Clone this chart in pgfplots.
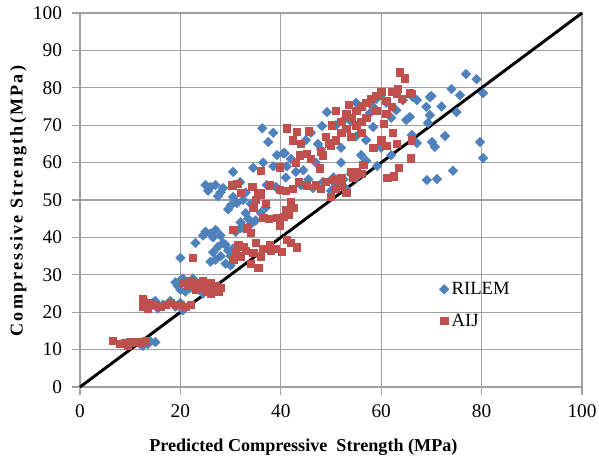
\documentclass[border=0pt]{standalone}
\usepackage{fontspec}
\setmainfont{Liberation Serif}
\usepackage{pgfplots}
\pgfplotsset{compat=1.18}
\definecolor{rilem}{HTML}{4F81BD}
\definecolor{aij}{HTML}{C0504D}
\definecolor{gridc}{HTML}{A0A0A0}

\begin{document}
\begin{tikzpicture}
\begin{axis}[
  scale only axis,
  width=376.5pt, height=280.5pt,
  xmin=0, xmax=100, ymin=0, ymax=100,
  xtick={0,20,...,100}, ytick={0,10,...,100},
  xtick pos=bottom, ytick pos=left,
  tick align=outside, major tick length=6pt,
  tick style={gridc, line width=1pt},
  grid=major, grid style={gridc, line width=1pt},
  axis line style={gridc, line width=1pt},
  /pgf/number format/assume math mode=true,
  ticklabel style={font=\fontsize{14.5}{14.5}\selectfont},
  yticklabel style={xshift=-4pt},
  xticklabel style={yshift=-4pt},
  xlabel={\textbf{Predicted Compressive\ \ Strength (MPa)}},
  ylabel={\addfontfeature{LetterSpace=12}\textbf{Compressive Strength(MPa)}},
  label style={font=\fontsize{13.6}{13.6}\selectfont},
  xlabel style={at={(rel axis cs:0.445,-0.16)}, anchor=center},
  ylabel style={at={(rel axis cs:-0.123,0.5)}, anchor=center},
  legend style={at={(axis cs:71.5,28.8)}, anchor=north west, draw=none, fill=none,
    font=\fontsize{14}{14}\selectfont, row sep=9pt, inner sep=0pt},
  legend cell align=left,
  clip=false,
]
% RILEM
\addplot[only marks, mark=square*, mark size=2.6pt,
  mark options={rotate=45, fill=rilem, draw=rilem, line width=0.2pt}]
  coordinates {
  (12.5,11)(13,12)(13.5,11.5)(14,12.2)(15,12)(12,11.5)
  (14,21.5)(14.5,22.5)(15,23)(15.5,21)(16.5,22)(18,23)(19,21.5)(20,22.5)(20.5,20.5)(13,23)
  (19,28)(19.5,27)(20,26)(20.5,29)(21,25.5)(21.5,27.5)(22,26.5)(23,27)(24,28)(25,26)(26,27)(24.5,25)(20,28.5)(22.5,29)
  (20,34.5)
  (26.5,36)(27,34)(27.5,37.5)(28,35)(28.5,38.5)(29,33)(29.5,36.5)(30,35)(30.5,37)(29,38)(31,34.5)(26,33.5)(30,32.5)
  (25,41.5)(26,41)(27,42)(28,40.5)(26.5,40)(31,41.5)(32,42.5)
  (32,44)(33,46.5)(33.5,45)(34,43.5)(32.5,42.8)(36,46.5)(37,48)(35,44.5)
  (30,48.5)(30.5,50.8)(31.3,49.2)(32.5,50)(29.5,47.5)
  (25,54)(26,53.5)(27,54)(28,52)(25.5,52.5)(27.5,51)(28.5,53.2)(31.9,54.8)(37.2,54)(39,53.5)(39.8,52.7)
  (46.4,53.2)(48.4,54.8)(44,54)(50,52.5)(51,54)(52.5,55.5)(53,53)(55,56)(54,57)(50.5,56)
  (30.5,57.5)(34.5,58.6)(38.5,59)(41.2,59)(44.5,58)(39.2,62)(40.8,62.5)(36.5,60)(42,61)(59.2,59.1)(57,60.5)(56,62)(47,60)
  (37.5,65.5)(38.5,68)(36.3,69.2)(48,63.5)(47.4,65)(48.2,69.8)(40.5,62.5)(45,66)(52,64)(55,67)(58.4,69.5)(57,66)
  (60,64)(62,62)(66.1,67.4)(67.1,65.2)(72.7,67.1)(70.1,65.5)(70.7,64.2)(79.7,65.5)(46,68)
  (49.2,73.5)(57.8,73.3)(58.4,74.9)(59,77)(60,78)(61,76)(56,75)(53,72)(51,70)(54,71)(55,76)(62,72)(63,74)
  (64.3,76.7)(65,71.4)(65.7,72.2)(66.3,77.5)(67.1,76.7)(69,74.9)(69.7,72.7)(69.7,77.5)(69.3,70.6)
  (74,79.7)(75.7,78)(75,73.5)(76.9,83.7)(79,82.3)(80.3,78.6)(70,77.8)(72,75)
  (80.3,61.2)(74.3,57.8)(69.1,55.3)(71.1,55.6)
  (23,38.5)(24.5,40.5)(34,49)(33,52)(41,56)(43,57.5)(45.5,55.5)(52,60)
  };
\addlegendentry{RILEM}
% AIJ
\addplot[only marks, mark=square*, mark size=2.7pt,
  mark options={fill=aij, draw=aij, line width=0.2pt}]
  coordinates {
  (6.5,12.5)(8,11.5)(9,11.8)(10,12)(11,12.2)(12,12)(13,12.5)(9.5,11)
  (12.5,23.5)(13,22)(13.5,21)(14,22.5)(15,22)(16,21.5)(17,22)(18,22.5)(19,22)(20,22)(21,21.5)(22,22)(12.5,21.5)
  (20.5,28)(21.5,27)(22,28.5)(23,26)(23.5,27.5)(24,26.5)(25,25.5)(25.5,27)(26,28)(26.5,26)(27,27)(27.5,25.5)
  (28,26.5)(24.5,28.5)(22.5,34.5)(23,28)(26,25)
  (30.5,34)(31,36)(31.5,38)(32,35)(32.5,37.5)(34,33)(34.5,36)(35,38.5)(35.5,32)(36,35)(36.5,37)(37.8,38)
  (40.2,36.1)(41.2,39.3)(43.2,37.4)(38,36.5)(39,37)(42,38.5)(33,36.5)
  (30.5,42)(33.2,42.5)(34,41.2)(36.5,45.2)(37.5,45)(39.2,45.2)(39.8,43.3)(40.5,45.5)(41,47.5)(42,49.5)(41.5,46)
  (34.5,48)(35,50)(36,51.5)(37,49)(35.5,52)(42.5,48)
  (30.3,54)(31.3,54.3)(32,52)(34.3,53.5)(35.9,51.9)(37.8,54)(39.8,52.7)(42.4,53)(43.5,55)(45.2,54)(41,52.5)
  (47,54)(49,55)(50,51)(51,53)(52,54)(53,52)(54.4,56)(50.5,55.5)(52,56)(48,53)(61.2,55.9)(62.4,56.4)(63.4,58.6)
  (36,57.8)(39.8,58.8)(43.8,62)(45.2,62.5)(48.4,62)(47.8,58.5)(43,60)(46,61)(48,63)(54,57.5)(55,57.5)(56,57)
  (56.4,59.4)(65.9,61.2)
  (41.2,69.2)(43.2,68.2)(42.4,66)(45.6,68.4)(49.6,65.2)(50.2,70)(44,65)(49,67)(51,66)(52,68)(53,69)(54,67)
  (55,70)(56,68)(58.4,64)(60,66)(61,64.5)(62.3,68)(63,65)(66,66)(50,64.5)
  (51,74)(52,71)(53,73)(54,72)(55,74)(56,75)(57,76)(58,77)(59,78)(60,79)(61,76.5)(62,79)(60.5,70.5)(61,73)
  (62,75)(57,72)(63.3,79.7)(65.7,78.6)(64,77)(63,78.5)(66,78.5)(56,71)(59,74)(53.5,75.5)
  (63.7,84.2)(64.7,82.6)
  };
\addlegendentry{AIJ}
% line of equality
\addplot[black, line width=2.2pt, forget plot] coordinates {(0,0)(100,100)};
\end{axis}
\pgfresetboundingbox
\path[use as bounding box] (-60pt,-58.5pt) rectangle (389.25pt,290.25pt);
\end{tikzpicture}
\end{document}
